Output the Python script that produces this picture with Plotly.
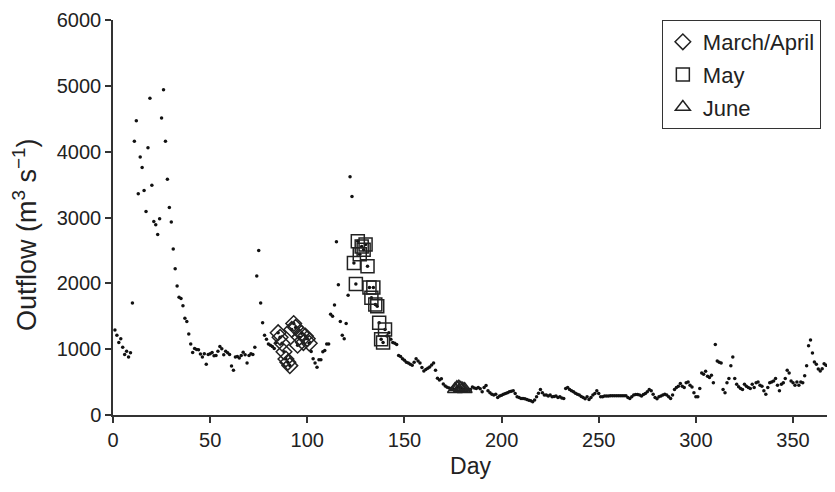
import plotly.graph_objects as go

# ---- daily outflow (m3 s-1) ----
days = list(range(1, 368))
outflow = [
    # 1-10
    1290, 1210, 1100, 1160, 1030, 920, 970, 880, 945, 1700,
    # 11-20
    4160, 4470, 3360, 3920, 3760, 3410, 3090, 4060, 4810, 3490,
    # 21-30
    2940, 2890, 2740, 2980, 4510, 4940, 4160, 3580, 3150, 2930,
    # 31-40
    2520, 2220, 1960, 1790, 1770, 1660, 1470, 1420, 1230, 1080,
    # 41-50
    950, 1010, 995, 990, 925, 880, 930, 770, 920, 930,
    # 51-60
    950, 900, 905, 970, 1040, 1005, 915, 970, 945, 920,
    # 61-70
    745, 680, 880, 890, 865, 905, 955, 915, 790, 905,
    # 71-80
    930, 920, 1030, 2110, 2500, 1700, 1400, 1210, 1150, 1080,
    # 81-90
    1060, 1040, 1010, 1100, 1250, 1180, 1090, 960, 850, 800,
    # 91-100
    750, 1300, 1390, 1330, 1060, 1180, 1240, 1100, 1200, 1160,
    # 101-110
    1090, 965, 855, 790, 725, 840, 840, 960, 980, 1080,
    # 111-120
    1080, 1530, 1500, 1670, 2630, 1980, 1420, 1210, 1160, 1390,
    # 121-130
    1820, 3620, 3320, 2310, 1990, 2640, 2440, 2560, 2510, 2590,
    # 131-140
    2260, 1935, 1780, 1935, 1680, 1650, 1400, 1150, 1100, 1300,
    # 141-150
    1200, 1250, 1150, 1100, 1090, 1070, 905, 890, 855, 830,
    # 151-160
    800, 790, 770, 755, 800, 855, 820, 790, 720, 670,
    # 161-170
    690, 710, 730, 760, 790, 680, 560, 530, 550, 470,
    # 171-180
    440, 420, 410, 400, 395, 390, 420, 430, 410, 400,
    # 181-190
    390, 390, 390, 387, 427, 410, 402, 417, 400, 352,
    # 191-200
    417, 448, 367, 337, 315, 302, 317, 266, 287, 300,
    # 201-210
    317, 327, 337, 352, 360, 367, 327, 276, 266, 251,
    # 211-220
    250, 246, 236, 225, 216, 201, 226, 276, 330, 387,
    # 221-230
    337, 302, 302, 290, 302, 276, 280, 287, 266, 276,
    # 231-240
    260, 251, 402, 417, 387, 367, 352, 330, 317, 302,
    # 241-250
    280, 266, 246, 276, 236, 266, 302, 327, 367, 327,
    # 251-260
    276, 276, 287, 287, 287, 292, 292, 292, 292, 292,
    # 261-270
    292, 292, 292, 292, 266, 251, 276, 302, 312, 312,
    # 271-280
    302, 287, 310, 327, 352, 387, 367, 317, 266, 246,
    # 281-290
    276, 287, 302, 317, 302, 276, 251, 302, 387, 417,
    # 291-300
    437, 478, 437, 417, 488, 503, 452, 427, 337, 276,
    # 301-310
    276, 402, 638, 618, 664, 588, 568, 603, 488, 1071,
    # 311-320
    819, 800, 789, 387, 337, 488, 553, 749, 880, 553,
    # 321-330
    468, 430, 402, 387, 468, 437, 417, 402, 468, 417,
    # 331-340
    488, 503, 452, 437, 367, 317, 417, 488, 503, 518,
    # 341-350
    553, 452, 367, 468, 488, 553, 679, 638, 518, 488,
    # 351-360
    452, 503, 452, 503, 488, 598, 749, 1051, 1141, 940,
    # 361-367
    804, 769, 699, 669, 704, 779, 754,
]

# ---- sampling dates (markers) ----
ma_days = [85, 86, 87, 88, 89, 90, 91, 92, 93, 94, 95, 96, 97, 98, 99, 100, 101]
ma_vals = [1250, 1180, 1090, 960, 850, 800, 750, 1300, 1390, 1330, 1060, 1180, 1240, 1100, 1200, 1160, 1090]

may_days = [124, 125, 126, 127, 128, 129, 130, 131, 132, 133, 134, 135, 136, 137, 138, 139, 140]
may_vals = [2310, 1990, 2640, 2440, 2560, 2510, 2590, 2260, 1935, 1780, 1935, 1680, 1650, 1400, 1150, 1100, 1300]

jun_days = [176, 177, 178, 179, 180, 181]
jun_vals = [390, 420, 430, 410, 400, 390]

x_ticks = [0, 50, 100, 150, 200, 250, 300, 350]
y_ticks = [0, 1000, 2000, 3000, 4000, 5000, 6000]

FONT = "Liberation Sans, Arial, Helvetica, sans-serif"
INK = "#222222"

fig = go.Figure()
fig.add_trace(go.Scatter(
    x=days, y=outflow, mode="markers", showlegend=False,
    marker=dict(size=3.5, color="#111111"),
))
fig.add_trace(go.Scatter(
    x=ma_days, y=ma_vals, mode="markers", name="March/April", legendgroup="a",
    marker=dict(symbol="diamond-open", size=12, color=INK, line=dict(width=1.5, color=INK)),
))
fig.add_trace(go.Scatter(
    x=may_days, y=may_vals, mode="markers", name="May", legendgroup="b",
    marker=dict(symbol="square-open", size=13, color=INK, line=dict(width=1.5, color=INK)),
))
fig.add_trace(go.Scatter(
    x=jun_days, y=jun_vals, mode="markers", name="June", legendgroup="c",
    marker=dict(symbol="triangle-up-open", size=13, color=INK, line=dict(width=1.5, color=INK)),
))

axis_common = dict(
    showgrid=False, zeroline=False, showline=True, linecolor="#333333", linewidth=1.5,
    ticks="outside", ticklen=6, tickwidth=1.5, tickcolor="#333333", automargin=False,
    ticklabeloverflow="allow",
    tickfont=dict(family=FONT, size=20, color=INK),
)
# The page body adds an 8 px offset; the figure is sized to fill the rest of
# the window so the plot area sits at window x 113-828, y ~20-415.
fig.update_layout(
    width=827, height=484,
    margin=dict(l=105, r=7, t=12, b=77, autoexpand=False),
    paper_bgcolor="white", plot_bgcolor="white",
    font=dict(family=FONT, color=INK),
    xaxis=dict(range=[0, 368], tickvals=x_ticks,
               title=dict(text="Day", font=dict(family=FONT, size=23, color=INK), standoff=8),
               **axis_common),
    yaxis=dict(range=[0, 6000], tickvals=y_ticks, **axis_common),
    legend=dict(x=0.99, xanchor="right", y=1.0, yanchor="top",
                bordercolor="#333333", borderwidth=1, bgcolor="white", itemwidth=30,
                font=dict(family=FONT, size=22, color=INK), tracegroupgap=1),
    annotations=[dict(
        text="Outflow (m<sup>3</sup> s<sup>\u22121</sup>)",
        xref="paper", yref="paper", x=(25 - 113) / 715, y=(415 - 235) / 395,
        xanchor="center", yanchor="middle", textangle=-90, showarrow=False,
        font=dict(family=FONT, size=27, color=INK),
    )],
)

fig.write_html("out.html")
